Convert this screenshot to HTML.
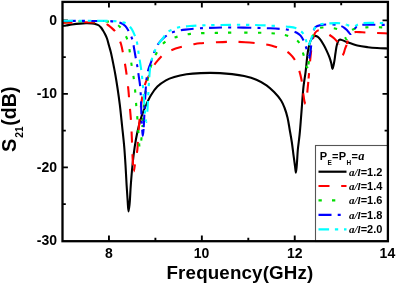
<!DOCTYPE html>
<html><head><meta charset="utf-8"><style>
html,body{margin:0;padding:0;background:#fff;}
body{width:396px;height:284px;overflow:hidden;position:relative;}
svg{position:absolute;left:0;top:0;will-change:transform;}
text{font-family:"Liberation Sans",sans-serif;font-weight:bold;fill:#000;}
.it{font-family:"Liberation Serif",serif;font-style:italic;font-weight:bold;}
</style></head><body>
<svg width="396" height="284" viewBox="0 0 396 284">
<path d="M108.95,241.2 v-5.6 M108.95,1.9 v5.6 M155.40,241.2 v-3.4 M155.40,1.9 v3.4 M201.85,241.2 v-5.6 M201.85,1.9 v5.6 M248.30,241.2 v-3.4 M248.30,1.9 v3.4 M294.75,241.2 v-5.6 M294.75,1.9 v5.6 M341.20,241.2 v-3.4 M341.20,1.9 v3.4 M62.5,20.40 h5.4 M387.9,20.40 h-5.4 M62.5,57.15 h3.3 M387.9,57.15 h-3.3 M62.5,93.90 h5.4 M387.9,93.90 h-5.4 M62.5,130.65 h3.3 M387.9,130.65 h-3.3 M62.5,167.40 h5.4 M387.9,167.40 h-5.4 M62.5,204.15 h3.3 M387.9,204.15 h-3.3" stroke="#000" stroke-width="1.9" fill="none"/>
<defs><clipPath id="c"><rect x="62.5" y="1.9" width="325.4" height="239.3"/></clipPath></defs>
<g clip-path="url(#c)" fill="none" stroke-width="2.1" stroke-linejoin="round">
<path d="M62.50,26.00 C63.67,25.83 64.68,25.70 66.00,25.50 C67.73,25.23 69.85,24.80 72.00,24.50 C74.47,24.16 77.52,23.80 80.00,23.60 C82.14,23.43 84.00,23.32 86.00,23.30 C88.00,23.28 90.21,23.31 92.00,23.50 C93.47,23.65 94.78,23.84 96.00,24.20 C97.09,24.53 98.15,24.92 99.00,25.50 C99.79,26.04 100.37,26.73 101.00,27.50 C101.71,28.37 102.35,29.45 103.00,30.50 C103.69,31.61 104.36,32.74 105.00,34.00 C105.70,35.39 106.40,36.82 107.00,38.50 C107.72,40.51 108.26,43.01 108.90,45.30 C109.56,47.64 110.31,50.02 110.90,52.40 C111.48,54.76 111.90,57.06 112.40,59.50 C112.93,62.09 113.49,64.87 114.00,67.50 C114.49,70.04 114.90,72.15 115.40,75.00 C116.05,78.74 116.81,83.40 117.50,88.00 C118.28,93.19 119.07,98.65 119.80,104.60 C120.65,111.50 121.44,119.79 122.20,127.00 C122.91,133.72 123.65,140.08 124.20,146.50 C124.74,152.74 125.11,158.71 125.50,165.00 C125.91,171.54 126.22,178.81 126.60,185.00 C126.93,190.36 127.26,195.34 127.60,200.00 C127.90,204.06 128.12,211.39 128.50,211.40 C128.79,211.41 129.20,207.73 129.50,205.00 C130.03,200.19 130.30,191.66 130.80,185.00 C131.30,178.33 131.84,171.43 132.50,165.00 C133.12,158.99 133.76,153.23 134.60,147.60 C135.40,142.25 136.25,137.20 137.40,132.00 C138.57,126.70 140.04,120.81 141.60,116.10 C142.89,112.19 144.24,109.08 145.80,105.60 C147.40,102.04 149.09,98.25 151.10,95.00 C152.99,91.95 154.94,89.05 157.40,86.60 C159.87,84.14 162.96,81.93 165.90,80.30 C168.61,78.80 171.20,77.95 174.30,77.00 C177.95,75.89 182.26,74.95 186.50,74.30 C191.01,73.61 195.52,73.32 200.60,73.10 C206.55,72.85 214.30,72.86 220.00,73.10 C224.51,73.29 228.08,73.60 232.10,74.10 C236.14,74.60 240.19,75.16 244.20,76.10 C248.29,77.05 252.60,78.19 256.40,79.80 C260.01,81.33 263.48,83.27 266.50,85.40 C269.33,87.40 271.71,89.64 274.10,92.10 C276.59,94.66 279.30,97.66 281.10,100.50 C282.67,102.97 283.57,105.32 284.60,108.00 C285.73,110.92 286.68,114.03 287.50,117.40 C288.42,121.20 288.98,125.60 289.70,129.70 C290.42,133.80 291.18,137.89 291.80,142.00 C292.42,146.09 292.86,150.25 293.40,154.30 C293.93,158.25 294.55,162.63 295.00,166.00 C295.35,168.57 295.61,172.80 295.90,172.80 C296.21,172.80 296.52,168.03 296.80,165.00 C297.18,160.81 297.34,155.03 297.80,150.00 C298.27,144.89 299.07,139.83 299.60,134.60 C300.15,129.17 300.58,123.20 301.00,118.00 C301.37,113.40 301.63,109.71 302.00,105.00 C302.44,99.40 302.85,92.38 303.50,86.60 C304.08,81.42 304.98,76.82 305.60,71.90 C306.22,66.96 306.65,61.34 307.20,57.00 C307.63,53.62 307.91,50.82 308.50,48.00 C309.04,45.45 309.69,42.71 310.50,40.80 C311.09,39.41 311.67,38.24 312.50,37.40 C313.21,36.68 314.14,36.00 315.00,35.90 C315.81,35.81 316.69,36.21 317.50,36.70 C318.51,37.31 319.46,38.40 320.40,39.60 C321.60,41.13 322.84,43.41 323.90,45.30 C324.90,47.08 325.72,48.72 326.60,50.60 C327.56,52.66 328.61,55.05 329.40,57.20 C330.12,59.18 330.68,61.05 331.20,63.00 C331.72,64.95 332.02,68.89 332.50,68.90 C333.02,68.91 333.72,64.47 334.20,62.00 C334.74,59.21 335.03,55.95 335.50,53.00 C335.96,50.12 336.28,46.85 337.00,44.50 C337.54,42.72 338.11,40.68 339.00,40.00 C339.57,39.56 340.18,39.60 341.00,39.70 C342.43,39.87 344.49,41.19 346.70,42.00 C349.67,43.09 353.73,44.63 357.30,45.50 C360.80,46.35 364.49,46.78 367.90,47.20 C371.04,47.59 373.69,47.79 377.00,48.00 C380.95,48.25 385.67,48.33 390.00,48.50" stroke="#000"/>
<path d="M62.50,23.00 C66.67,22.83 71.06,22.62 75.00,22.50 C78.52,22.39 81.67,22.30 85.00,22.30 C88.33,22.30 92.09,22.37 95.00,22.50 C97.26,22.60 99.21,22.71 101.00,22.90 C102.47,23.06 103.79,23.12 105.00,23.50 C106.10,23.85 107.03,24.38 108.00,25.00 C109.04,25.66 109.94,26.47 111.00,27.40 C112.31,28.54 113.99,29.82 115.20,31.40 C116.53,33.13 117.53,35.40 118.50,37.50 C119.47,39.60 120.28,41.63 121.00,44.00 C121.82,46.73 122.36,49.84 123.00,53.00 C123.70,56.48 124.38,60.25 125.00,64.00 C125.65,67.91 126.25,71.84 126.80,76.00 C127.39,80.48 127.94,85.28 128.40,90.00 C128.87,94.81 129.18,99.72 129.60,104.60 C130.02,109.52 130.54,114.27 130.90,119.40 C131.29,124.94 131.55,131.02 131.80,136.70 C132.04,142.21 132.17,147.87 132.40,153.00 C132.61,157.58 132.82,162.59 133.10,166.00 C133.28,168.22 133.45,171.49 133.70,171.50" stroke="#f00" stroke-dasharray="11 11.7" stroke-dashoffset="1.14"/>
<path d="M133.70,171.50 C133.90,171.51 134.15,169.41 134.40,168.00 C134.77,165.88 135.15,162.80 135.60,160.00 C136.10,156.90 136.88,153.82 137.30,150.20 C137.82,145.76 137.80,140.65 138.20,135.30 C138.67,129.05 139.39,121.01 140.00,115.00 C140.49,110.18 140.90,106.21 141.50,102.00 C142.07,97.99 142.68,93.88 143.50,90.30 C144.22,87.19 144.94,84.41 146.00,81.70 C147.02,79.09 148.38,76.94 149.70,74.30 C151.22,71.26 152.95,67.11 154.60,64.50 C155.82,62.57 156.88,61.39 158.30,59.80 C159.95,57.96 161.92,55.76 164.00,54.20 C166.03,52.68 168.10,51.61 170.60,50.50 C173.60,49.16 177.26,48.00 180.90,47.00 C184.88,45.90 190.08,44.95 193.60,44.30 C196.09,43.84 197.38,43.59 200.00,43.30 C204.09,42.85 210.67,42.55 215.80,42.30 C220.66,42.06 225.20,41.82 230.00,41.80 C234.93,41.78 239.79,41.87 245.00,42.20" stroke="#f00" stroke-dasharray="11 11.7" stroke-dashoffset="3.70"/>
<path d="M245.00,42.20 C250.69,42.56 257.85,43.27 262.80,44.00 C266.38,44.53 269.02,45.02 272.00,45.80 C274.91,46.56 278.12,47.76 280.50,48.60 C282.24,49.22 283.52,49.49 285.00,50.30 C286.69,51.22 288.50,52.60 290.00,54.00 C291.50,55.40 292.84,56.98 294.00,58.70 C295.19,60.47 296.12,62.50 297.00,64.50 C297.89,66.53 298.61,68.52 299.30,70.80 C300.09,73.40 300.85,76.44 301.40,79.30 C301.95,82.17 302.23,85.16 302.60,88.00 C302.96,90.72 303.25,93.59 303.60,96.00 C303.89,98.01 304.09,100.04 304.50,101.50 C304.78,102.51 305.20,104.02 305.50,104.00 C305.88,103.97 306.21,101.65 306.50,100.00 C306.95,97.43 307.16,93.45 307.50,90.00 C307.86,86.30 308.22,82.68 308.60,78.50" stroke="#f00" stroke-dasharray="11 11.7" stroke-dashoffset="1.39"/>
<path d="M308.60,78.50 C309.05,73.50 309.49,67.27 310.00,62.00 C310.47,57.14 310.93,52.15 311.50,48.00 C311.96,44.66 312.34,41.67 313.00,39.00 C313.55,36.77 314.05,34.47 315.00,33.00 C315.71,31.90 316.68,31.05 317.60,30.60 C318.36,30.23 319.16,30.13 320.00,30.20 C320.95,30.27 322.02,30.75 323.00,31.20 C324.03,31.67 324.95,32.39 326.00,33.00 C327.14,33.66 328.35,34.19 329.60,35.00 C331.09,35.96 332.81,37.09 334.30,38.50 C335.97,40.09 337.88,42.23 339.00,44.20" stroke="#f00" stroke-dasharray="11 11.7" stroke-dashoffset="5.51"/>
<path d="M339.00,44.20 C339.98,45.92 340.34,47.68 340.90,49.50 C341.48,51.38 341.81,55.18 342.40,55.30 C342.71,55.36 343.08,54.61 343.40,54.00 C343.97,52.91 344.42,50.66 345.00,49.00 C345.59,47.33 346.33,45.79 346.90,44.00" stroke="#f00" stroke-dasharray="11 11.7" stroke-dashoffset="10.62"/>
<path d="M346.90,44.00 C347.54,41.99 347.82,39.36 348.60,37.50 C349.25,35.95 349.96,34.39 351.00,33.50 C351.89,32.74 352.86,32.45 354.20,32.20 C356.24,31.82 359.29,32.21 362.20,32.30 C365.71,32.41 369.61,32.71 373.80,32.90 C378.75,33.12 384.60,33.30 390.00,33.50" stroke="#f00" stroke-dasharray="11 11.7" stroke-dashoffset="7.45"/>
<path d="M62.50,21.40 C68.33,21.33 73.97,21.22 80.00,21.20 C86.44,21.18 94.48,21.15 100.00,21.30 C103.91,21.41 107.43,21.42 110.00,21.80 C111.65,22.04 112.78,22.32 114.00,22.80 C115.13,23.24 116.12,23.82 117.10,24.50 C118.12,25.21 119.08,26.01 120.00,27.00 C121.06,28.13 122.01,29.45 123.00,31.00 C124.22,32.91 125.67,35.45 126.60,37.70 C127.47,39.79 127.98,41.76 128.50,44.00 C129.08,46.49 129.36,49.04 129.80,52.00 C130.35,55.66 130.87,60.09 131.50,64.30 C132.16,68.75 133.07,73.37 133.70,78.00 C134.34,82.73 134.86,87.66 135.30,92.40 C135.73,97.02 135.94,101.62 136.30,106.10 C136.64,110.41 137.05,114.40 137.40,118.80 C137.78,123.54 138.18,129.10 138.50,133.60 C138.77,137.37 138.95,141.25 139.20,144.00 C139.36,145.81 139.43,148.47 139.70,148.50 C139.88,148.52 140.19,147.34 140.40,146.50 C140.74,145.13 140.94,143.32 141.20,141.00 C141.65,137.06 142.11,130.25 142.50,125.00" stroke="#0d0" stroke-dasharray="3.3 10.2" stroke-dashoffset="10.98"/>
<path d="M142.50,125.00 C142.88,119.92 143.04,115.22 143.50,110.00 C144.01,104.27 144.69,97.61 145.50,92.00 C146.22,87.03 147.04,82.47 148.00,78.00 C148.89,73.83 149.78,69.78 151.00,66.00 C152.14,62.47 153.39,59.26 155.00,56.00 C156.67,52.62 158.70,48.81 160.90,46.10 C162.77,43.81 164.73,41.92 167.00,40.50 C169.21,39.11 171.35,38.52 174.30,37.60 C178.60,36.26 184.46,34.70 190.50,33.90 C197.96,32.91 207.46,33.12 215.80,32.90 C223.95,32.69 231.47,32.57 240.00,32.60" stroke="#0d0" stroke-dasharray="3.3 10.2" stroke-dashoffset="9.48"/>
<path d="M240.00,32.60 C249.56,32.64 262.12,32.61 270.40,33.20 C276.16,33.61 281.06,34.07 285.00,35.00 C287.80,35.66 289.80,36.41 292.00,37.50 C294.20,38.58 296.61,39.74 298.20,41.50 C299.78,43.25 300.61,45.79 301.50,48.00 C302.37,50.15 302.86,52.41 303.50,54.60 C304.13,56.75 304.72,58.86 305.30,61.00 C305.88,63.16 306.37,67.43 307.00,67.50 C307.41,67.55 307.94,66.13 308.30,65.00" stroke="#0d0" stroke-dasharray="3.3 10.2" stroke-dashoffset="9.05"/>
<path d="M308.30,65.00 C308.94,62.97 309.08,59.15 309.50,56.00 C309.97,52.52 310.44,48.31 311.00,45.00 C311.46,42.25 311.81,39.88 312.50,37.50 C313.16,35.23 313.88,32.56 315.00,31.00 C315.84,29.83 316.82,29.08 318.00,28.50 C319.26,27.88 320.51,27.63 322.40,27.50 C325.69,27.28 332.86,27.75 336.10,28.70 C338.05,29.27 339.25,30.01 340.50,31.00" stroke="#0d0" stroke-dasharray="3.3 10.2" stroke-dashoffset="12.91"/>
<path d="M340.50,31.00 C341.70,31.96 342.53,33.21 343.50,34.50 C344.57,35.92 345.71,39.22 346.60,39.20 C347.33,39.18 347.89,37.18 348.50,36.00 C349.20,34.65 349.63,32.63 350.50,31.50 C351.20,30.59 351.74,30.06 353.00,29.50 C355.55,28.37 360.91,27.78 365.90,27.40 C372.67,26.88 381.97,27.53 390.00,27.60" stroke="#0d0" stroke-dasharray="3.3 10.2" stroke-dashoffset="5.73"/>
<path d="M62.50,21.00 C68.33,20.97 73.97,20.90 80.00,20.90 C86.44,20.90 94.45,20.96 100.00,21.00 C103.97,21.03 106.82,20.80 110.20,21.10 C113.59,21.40 117.60,21.78 120.30,22.80 C122.35,23.57 123.88,24.50 125.30,25.90 C126.86,27.43 128.06,29.91 129.10,31.80 C130.00,33.42 130.68,34.91 131.30,36.50 C131.91,38.05 132.37,39.45 132.80,41.20 C133.33,43.35 133.66,46.01 134.10,48.50 C134.56,51.11 135.06,54.03 135.50,56.50 C135.88,58.64 136.24,60.54 136.60,62.50 C136.94,64.37 137.27,65.95 137.60,68.00 C138.01,70.57 138.40,73.93 138.80,76.70 C139.17,79.24 139.60,81.51 139.90,84.00 C140.21,86.60 140.42,89.19 140.60,92.00 C140.80,95.12 140.87,98.39 141.00,101.90 C141.14,105.87 141.23,110.48 141.40,114.60 C141.56,118.50 141.77,122.35 142.00,126.00 C142.21,129.36 142.41,135.69 142.70,135.70 C142.88,135.71 143.14,133.31 143.30,132.00 C143.48,130.53 143.56,129.32 143.70,127.30" stroke="#00f" stroke-dasharray="13 6.2 3 6.1" stroke-dashoffset="27.97"/>
<path d="M143.70,127.30 C143.95,123.66 144.25,117.01 144.50,112.00 C144.75,107.15 144.88,102.85 145.20,97.70 C145.58,91.66 145.97,83.28 146.70,78.00 C147.19,74.40 147.69,71.83 148.50,69.00 C149.25,66.35 150.34,64.25 151.30,61.50 C152.46,58.19 153.56,53.71 154.90,50.50 C156.00,47.85 157.05,45.57 158.50,43.50 C159.88,41.53 161.52,39.91 163.30,38.30 C165.14,36.63 167.33,34.86 169.40,33.70 C171.24,32.67 172.81,32.12 175.00,31.50 C177.92,30.67 181.71,30.11 185.50,29.60 C189.93,29.00 195.06,28.62 200.00,28.30 C205.15,27.97 210.67,27.83 215.80,27.70 C220.66,27.57 224.86,27.51 230.00,27.50 C236.10,27.49 243.33,27.57 250.00,27.70" stroke="#00f" stroke-dasharray="13 6.2 3 6.1" stroke-dashoffset="0.44"/>
<path d="M250.00,27.70 C256.67,27.83 264.40,28.06 270.00,28.30 C274.06,28.48 277.45,28.67 280.50,28.90 C282.87,29.08 284.92,29.19 286.80,29.50 C288.35,29.76 289.53,30.05 291.00,30.50 C292.70,31.02 294.77,31.62 296.40,32.50 C297.95,33.34 299.38,34.22 300.60,35.60 C302.04,37.22 303.22,39.68 304.20,41.90 C305.19,44.15 305.86,46.63 306.50,49.00 C307.12,51.33 307.47,54.27 308.00,56.00" stroke="#00f" stroke-dasharray="13 6.2 3 6.1" stroke-dashoffset="11.67"/>
<path d="M308.00,56.00 C308.32,57.06 308.69,58.52 309.00,58.50 C309.36,58.48 309.71,56.42 310.00,55.00 C310.43,52.89 310.65,49.74 311.00,47.00 C311.38,44.09 311.75,40.81 312.20,38.00 C312.60,35.51 312.84,32.97 313.50,31.00 C314.02,29.44 314.40,27.97 315.50,27.00 C316.74,25.90 318.75,25.53 320.90,25.10" stroke="#00f" stroke-dasharray="13 6.2 3 6.1" stroke-dashoffset="25.32"/>
<path d="M320.90,25.10 C323.89,24.51 328.77,24.41 331.90,24.50 C334.23,24.57 336.29,24.87 338.00,25.20 C339.28,25.45 340.28,25.68 341.30,26.10 C342.27,26.50 343.14,27.00 344.00,27.60 C344.91,28.23 345.83,29.04 346.60,29.80 C347.31,30.51 347.87,31.29 348.50,32.00 C349.10,32.69 349.71,33.84 350.30,34.00 C350.70,34.11 351.14,33.85 351.50,33.60 C351.93,33.30 352.20,32.76 352.60,32.20 C353.16,31.42 353.79,30.29 354.50,29.30 C355.30,28.19 356.17,26.61 357.20,25.90 C358.05,25.31 358.81,25.20 360.00,25.00 C361.95,24.67 364.60,24.83 367.90,24.80 C373.41,24.74 382.63,24.87 390.00,24.90" stroke="#00f" stroke-dasharray="13 6.2 3 6.1" stroke-dashoffset="7.69"/>
<path d="M62.50,20.80 C68.33,20.80 73.72,20.79 80.00,20.80 C87.32,20.82 97.54,20.82 103.80,20.90" stroke="#0ff" stroke-dasharray="10.6 5.8 3.3 5.8 3.3 5.8" stroke-dashoffset="0.00"/>
<path d="M103.80,20.90 C107.88,20.95 110.54,20.82 113.90,21.10 C117.28,21.38 121.47,21.69 124.00,22.60 C125.71,23.21 126.77,24.00 128.00,25.00 C129.31,26.07 130.50,27.26 131.60,28.90 C133.04,31.05 134.43,34.45 135.40,37.10 C136.27,39.46 136.77,41.44 137.30,44.00 C137.95,47.14 138.27,51.15 138.80,54.60 C139.31,57.91 139.90,61.05 140.40,64.30 C140.90,67.58 141.39,70.68 141.80,74.20 C142.27,78.19 142.64,82.89 143.00,87.00 C143.33,90.80 143.61,94.25 143.90,98.00 C144.21,101.91 144.49,106.18 144.80,110.00 C145.09,113.49 145.30,117.95 145.70,120.00 C145.88,120.93 146.12,122.01 146.30,122.00 C146.58,121.98 146.78,119.17 147.00,117.00" stroke="#0ff" stroke-dasharray="10.6 5.8 3.3 5.8 3.3 5.8" stroke-dashoffset="6.92"/>
<path d="M147.00,117.00 C147.39,113.02 147.67,105.75 148.00,100.00 C148.34,94.09 148.58,87.82 149.00,82.00 C149.39,76.51 149.67,70.55 150.40,66.00 C150.95,62.55 151.53,60.03 152.50,57.00 C153.55,53.74 154.89,50.19 156.60,47.10 C158.30,44.03 160.73,41.14 162.70,38.50 C164.45,36.16 165.54,33.75 167.80,32.00 C170.41,29.98 174.31,28.60 177.90,27.60 C181.68,26.55 185.89,26.37 190.00,26.00 C194.25,25.62 198.38,25.56 203.00,25.40 C208.29,25.22 214.10,25.10 220.00,25.00 C226.40,24.89 233.33,24.77 240.00,24.80 C246.67,24.83 253.29,24.97 260.00,25.20 C266.79,25.43 275.44,25.90 280.50,26.20" stroke="#0ff" stroke-dasharray="10.6 5.8 3.3 5.8 3.3 5.8" stroke-dashoffset="29.27"/>
<path d="M280.50,26.20 C283.48,26.38 285.17,26.43 287.60,26.70 C290.19,26.99 293.29,27.07 295.60,27.90 C297.60,28.61 299.30,29.66 300.80,31.00 C302.35,32.38 303.75,34.25 304.70,36.10 C305.63,37.92 305.95,40.16 306.50,42.00 C306.98,43.60 307.25,46.43 307.80,46.50 C308.23,46.56 308.83,44.98 309.30,44.00 C309.91,42.74 310.47,41.09 311.00,39.50 C311.58,37.77 312.08,35.74 312.60,34.00 C313.07,32.42 313.40,30.88 314.00,29.50 C314.55,28.23 315.01,26.84 316.00,26.00 C317.04,25.11 318.59,24.80 320.20,24.40 C322.23,23.89 324.74,23.71 327.30,23.50 C330.28,23.25 334.30,23.02 337.00,23.10 C338.94,23.16 340.39,23.31 342.00,23.60 C343.55,23.88 345.05,24.39 346.50,24.80" stroke="#0ff" stroke-dasharray="10.6 5.8 3.3 5.8 3.3 5.8" stroke-dashoffset="29.18"/>
<path d="M346.50,24.80 C347.88,25.19 349.11,25.81 350.50,26.00 C351.94,26.20 353.62,26.22 355.00,25.90 C356.27,25.61 357.21,24.75 358.50,24.30 C360.00,23.78 361.47,23.36 363.50,23.10 C366.53,22.71 370.91,22.88 375.00,22.90 C379.67,22.92 385.00,23.17 390.00,23.30" stroke="#0ff" stroke-dasharray="10.6 5.8 3.3 5.8 3.3 5.8" stroke-dashoffset="16.88"/>
</g>
<rect x="315.5" y="145.5" width="72.5" height="96" fill="#fff" stroke="#555" stroke-width="1.1"/>
<rect x="62.5" y="1.9" width="325.4" height="239.29999999999998" fill="none" stroke="#000" stroke-width="2.3"/>
<path d="M318.5,171.7 H346.5" stroke="#000" stroke-width="2.2" fill="none"/>
<path d="M318.5,186.0 H346.5" stroke="#f00" stroke-width="2.2" fill="none" stroke-dasharray="11 11.7"/>
<path d="M318.5,200.4 H337" stroke="#0d0" stroke-width="2.2" fill="none" stroke-dasharray="3.3 10.2"/>
<path d="M318.5,214.8 H346.5" stroke="#00f" stroke-width="2.2" fill="none" stroke-dasharray="13 6.2 3 6.1"/>
<path d="M318.5,229.4 H346.5" stroke="#0ff" stroke-width="2.2" fill="none" stroke-dasharray="10.6 5.8 3.3 5.8 3.3 5.8"/>
<text x="109" y="257.5" font-size="14" text-anchor="middle" >8</text><text x="201.6" y="257.5" font-size="14" text-anchor="middle" >10</text><text x="294.8" y="257.5" font-size="14" text-anchor="middle" >12</text><text x="387.4" y="257.5" font-size="14" text-anchor="middle" >14</text><text x="57" y="24.9" font-size="14" text-anchor="end" >0</text><text x="57" y="98.4" font-size="14" text-anchor="end" >-10</text><text x="57" y="171.9" font-size="14" text-anchor="end" >-20</text><text x="57" y="245.4" font-size="14" text-anchor="end" >-30</text>
<text x="166.5" y="279" font-size="18.75" letter-spacing="0.15">Frequency(GHz)</text>
<g transform="translate(15.6,152) rotate(-90)"><text x="0" y="0" font-size="20">S</text><text x="14.3" y="7.3" font-size="10.2">21</text><text x="26.3" y="0.2" font-size="19.6">(dB)</text></g>
<text x="319.7" y="159.6" font-size="11" letter-spacing="0.35">P<tspan font-size="6.5" dy="5.2">E</tspan><tspan dy="-5.2">=P</tspan><tspan font-size="6.5" dy="5.2">H</tspan><tspan dy="-5.2">=</tspan><tspan class="it" font-size="12.5">a</tspan></text>
<text x="349" y="175.6" font-size="11"><tspan class="it">a/l</tspan>=1.2</text>
<text x="349" y="189.9" font-size="11"><tspan class="it">a/l</tspan>=1.4</text>
<text x="349" y="204.2" font-size="11"><tspan class="it">a/l</tspan>=1.6</text>
<text x="349" y="218.5" font-size="11"><tspan class="it">a/l</tspan>=1.8</text>
<text x="349" y="232.8" font-size="11"><tspan class="it">a/l</tspan>=2.0</text>
</svg>
</body></html>
